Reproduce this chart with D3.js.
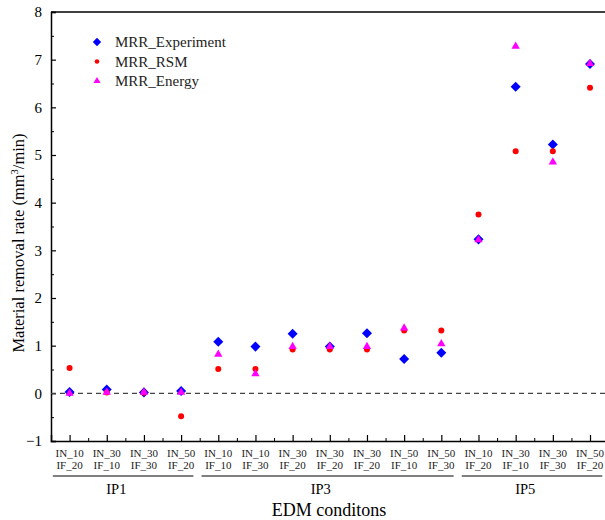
<!DOCTYPE html>
<html>
<head>
<meta charset="utf-8">
<script src="https://cdn.jsdelivr.net/npm/d3@7"></script>
<style>
  body { margin: 0; background: #fff; }
  svg text { font-family: "Liberation Serif", "Times New Roman", serif !important; }
</style>
</head>
<body>
<div id="chart"></div>
<script>
const inLabels = ["IN_10","IN_30","IN_30","IN_50","IN_10","IN_10","IN_30","IN_30","IN_30","IN_50","IN_50","IN_10","IN_30","IN_30","IN_50"];
const ifLabels = ["IF_20","IF_10","IF_30","IF_20","IF_10","IF_30","IF_20","IF_20","IF_20","IF_10","IF_30","IF_20","IF_10","IF_30","IF_20"];
const groups = [
  { name: "IP1", first: 1, last: 4 },
  { name: "IP3", first: 5, last: 11 },
  { name: "IP5", first: 12, last: 15 }
];
const mrrExperiment = [0.03, 0.08, 0.02, 0.05, 1.08, 0.98, 1.25, 0.98, 1.26, 0.72, 0.85, 3.23, 6.43, 5.22, 6.91];
const mrrRSM        = [0.53, 0.02, 0.01, -0.48, 0.51, 0.51, 0.92, 0.92, 0.92, 1.32, 1.32, 3.75, 5.08, 5.08, 6.41];
const mrrEnergy     = [0.00, 0.02, 0.02, 0.02, 0.82, 0.41, 0.98, 0.98, 0.98, 1.37, 1.04, 3.22, 7.28, 4.85, 6.92];
const yTicks = [-1, 0, 1, 2, 3, 4, 5, 6, 7, 8];

const width = 605, height = 520;
const plotLeft = 51, plotTop = 12, plotBottom = 441, plotRight = 608.6;
const serif = "Liberation Serif";

const svg = d3.select("#chart").append("svg")
  .attr("width", width)
  .attr("height", height)
  .style("font-family", serif);

const x = d3.scaleLinear().domain([0.5, 15.5]).range([plotLeft, plotRight]);
const y = d3.scaleLinear().domain([-1, 8]).range([plotBottom, plotTop]);

// top frame line
svg.append("line")
  .attr("x1", plotLeft).attr("x2", width).attr("y1", plotTop).attr("y2", plotTop)
  .attr("stroke", "#000").attr("stroke-width", 1.5);

// y axis
const yAxis = svg.append("g").attr("transform", `translate(${plotLeft},0)`)
  .call(d3.axisLeft(y).tickValues(yTicks).tickSize(-5).tickPadding(9).tickFormat(d3.format("d")));
yAxis.attr("font-family", serif);
yAxis.select(".domain").attr("stroke-width", 1.5);
yAxis.selectAll(".tick line").attr("stroke-width", 1.2);
yAxis.selectAll("text").style("font-size", "15px").style("font-family", serif);

svg.append("g").attr("transform", `translate(${plotLeft},0)`)
  .call(d3.axisLeft(y).tickValues(d3.range(-0.5, 8, 1)).tickSize(-3).tickFormat(""))
  .call(g => g.select(".domain").remove());

// x axis
const cats = d3.range(1, 16);
const xAxis = svg.append("g").attr("transform", `translate(0,${plotBottom})`)
  .call(d3.axisBottom(x).tickValues(cats).tickSize(-6).tickFormat(""));
xAxis.select(".domain").attr("stroke-width", 1.5);
xAxis.selectAll(".tick line").attr("stroke-width", 1.2);

svg.append("g").attr("transform", `translate(0,${plotBottom})`)
  .call(d3.axisBottom(x).tickValues(d3.range(1.5, 15.5, 1)).tickSize(-3).tickFormat(""))
  .call(g => g.select(".domain").remove());

// category labels
const catG = svg.append("g");
catG.selectAll(".in").data(cats).enter().append("text")
  .attr("x", d => x(d)).attr("y", 457)
  .attr("text-anchor", "middle").style("font-size", "11px").attr("fill", "#222")
  .text((d, i) => inLabels[i]);
catG.selectAll(".if").data(cats).enter().append("text")
  .attr("x", d => x(d)).attr("y", 469)
  .attr("text-anchor", "middle").style("font-size", "11px").attr("fill", "#222")
  .text((d, i) => ifLabels[i]);

// group brackets
groups.forEach(g => {
  svg.append("line")
    .attr("x1", x(g.first - 0.45)).attr("x2", x(g.last + 0.33))
    .attr("y1", 476).attr("y2", 476)
    .attr("stroke", "#000").attr("stroke-width", 1);
  svg.append("text")
    .attr("x", x((g.first + g.last) / 2) - 9).attr("y", 494)
    .attr("text-anchor", "middle").style("font-size", "14.5px")
    .text(g.name);
});

// axis titles
svg.append("text")
  .attr("x", 329).attr("y", 516)
  .attr("text-anchor", "middle").style("font-size", "18px")
  .text("EDM conditons");

const yTitle = svg.append("text")
  .attr("transform", "translate(24,243) rotate(-90)")
  .attr("text-anchor", "middle").style("font-size", "16.5px");
yTitle.append("tspan").text("Material removal rate (mm");
yTitle.append("tspan").attr("dy", -6).style("font-size", "10.5px").text("3");
yTitle.append("tspan").attr("dy", 6).text("/min)");

// zero line
svg.append("line")
  .attr("x1", plotLeft).attr("x2", width).attr("y1", y(0)).attr("y2", y(0))
  .attr("stroke", "#444").attr("stroke-width", 1.3).attr("stroke-dasharray", "5,4");

// markers
const diamond = d3.symbol().type(d3.symbolDiamond2).size(64);
const triangle = d3.symbol().type(d3.symbolTriangle).size(30);

svg.append("g").selectAll("path").data(mrrExperiment).enter().append("path")
  .attr("d", diamond)
  .attr("transform", (d, i) => `translate(${x(i + 1)},${y(d)})`)
  .attr("fill", "#0000ff");

svg.append("g").selectAll("circle").data(mrrRSM).enter().append("circle")
  .attr("cx", (d, i) => x(i + 1)).attr("cy", d => y(d)).attr("r", 3)
  .attr("fill", "#ff0000");

svg.append("g").selectAll("path").data(mrrEnergy).enter().append("path")
  .attr("d", triangle)
  .attr("transform", (d, i) => `translate(${x(i + 1)},${y(d)})`)
  .attr("fill", "#ff00ff");

// legend
const legend = svg.append("g");
const items = [
  { name: "MRR_Experiment", type: "diamond" },
  { name: "MRR_RSM", type: "circle" },
  { name: "MRR_Energy", type: "triangle" }
];
items.forEach((it, i) => {
  const ly = 42 + i * 19.5;
  if (it.type === "diamond") {
    legend.append("path").attr("d", d3.symbol().type(d3.symbolDiamond2).size(45))
      .attr("transform", `translate(97,${ly})`).attr("fill", "#0000ff");
  } else if (it.type === "circle") {
    legend.append("circle").attr("cx", 97).attr("cy", ly).attr("r", 2.3).attr("fill", "#ff0000");
  } else {
    legend.append("path").attr("d", d3.symbol().type(d3.symbolTriangle).size(22))
      .attr("transform", `translate(97,${ly})`).attr("fill", "#ff00ff");
  }
  legend.append("text").attr("x", 115).attr("y", ly + 5)
    .style("font-size", "15px").attr("fill", "#222").text(it.name);
});
</script>
</body>
</html>
